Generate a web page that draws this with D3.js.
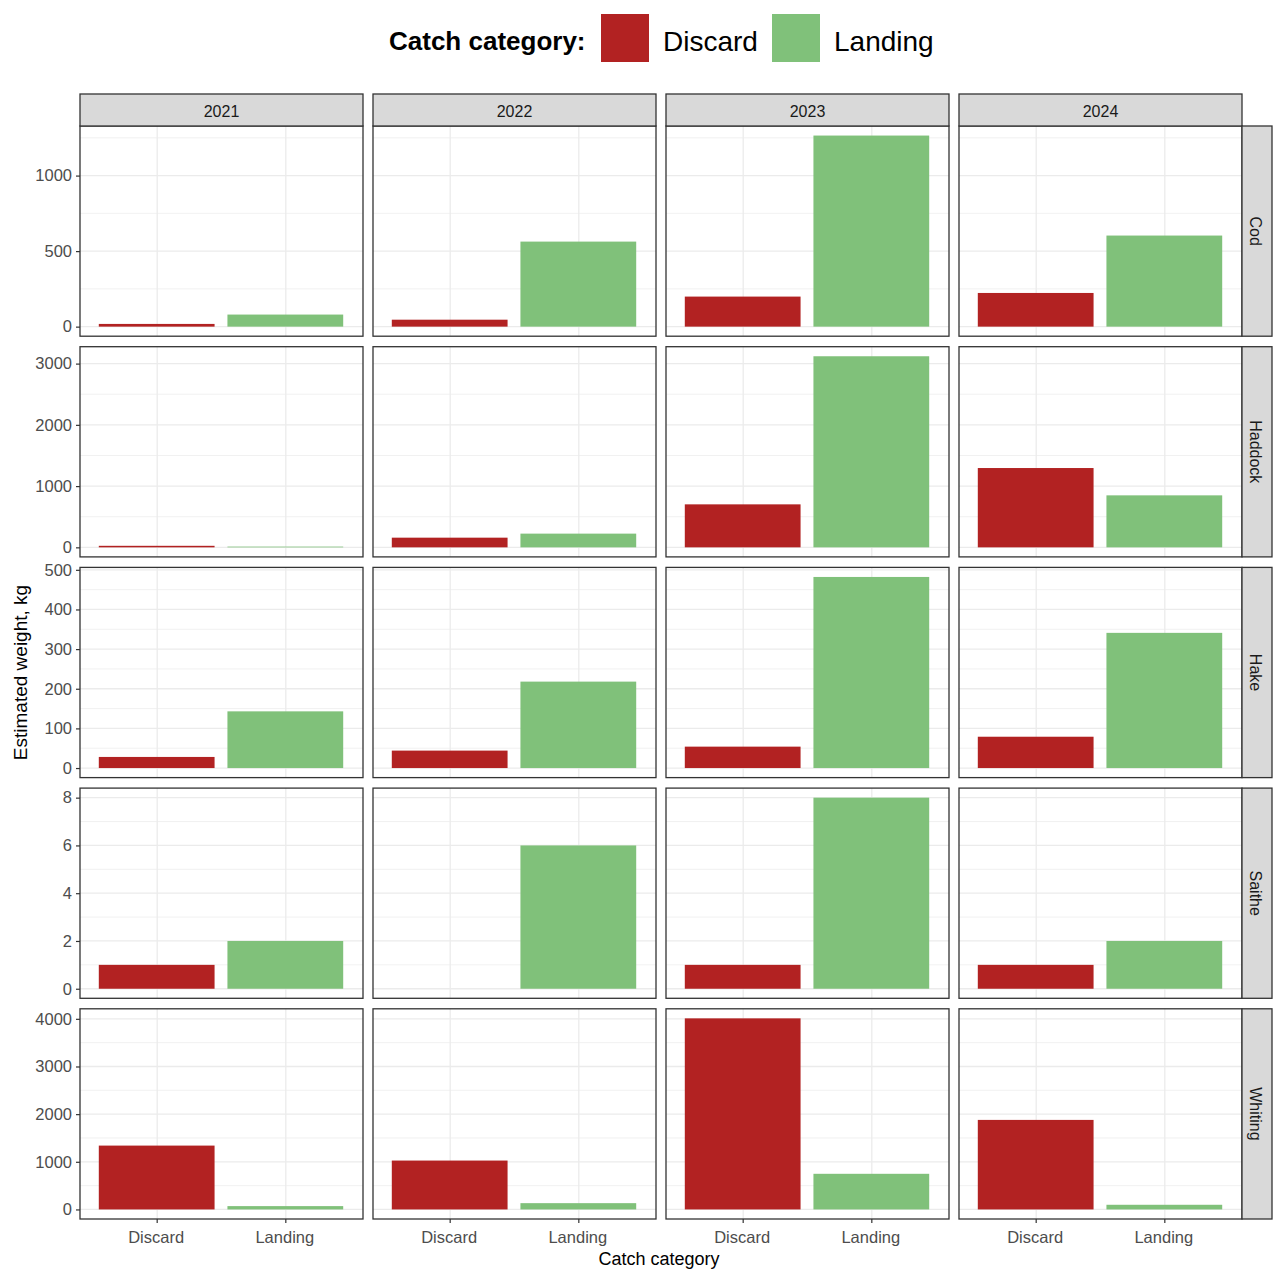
<!DOCTYPE html>
<html>
<head>
<meta charset="utf-8">
<script src="https://cdn.jsdelivr.net/npm/d3@7"></script>
<style>
  html, body { margin: 0; padding: 0; background: #fff; }
  svg { display: block; font-family: "Liberation Sans", Arial, sans-serif; }
</style>
</head>
<body>
<svg id="chart" width="1274" height="1271"></svg>
<script>
// Facet columns (years) and rows (species)
const years = ["2021", "2022", "2023", "2024"];
const species = ["Cod", "Haddock", "Hake", "Saithe", "Whiting"];
const categories = ["Discard", "Landing"];
const categoryColors = ["#B22222", "#80C17A"];

// Estimated weight (kg) by year, one array per species and catch category
const codDiscard = [18, 46, 199, 223];
const codLanding = [80, 563, 1265, 603];
const haddockDiscard = [25, 158, 702, 1295];
const haddockLanding = [12, 224, 3120, 849];
const hakeDiscard = [28, 44, 54, 79];
const hakeLanding = [143, 218, 482, 341];
const saitheDiscard = [1, null, 1, 1];
const saitheLanding = [2, 6, 8, 2];
const whitingDiscard = [1340, 1026, 4010, 1879];
const whitingLanding = [70, 132, 748, 98];

// Y tick labels per species row
const codTicks = [0, 500, 1000];
const haddockTicks = [0, 1000, 2000, 3000];
const hakeTicks = [0, 100, 200, 300, 400, 500];
const saitheTicks = [0, 2, 4, 6, 8];
const whitingTicks = [0, 1000, 2000, 3000, 4000];

const rows = [
  { name: species[0], values: [codDiscard, codLanding], ticks: codTicks },
  { name: species[1], values: [haddockDiscard, haddockLanding], ticks: haddockTicks },
  { name: species[2], values: [hakeDiscard, hakeLanding], ticks: hakeTicks },
  { name: species[3], values: [saitheDiscard, saitheLanding], ticks: saitheTicks },
  { name: species[4], values: [whitingDiscard, whitingLanding], ticks: whitingTicks }
];

// Layout
const gridLeft = 80, gridTop = 126, colW = 283, colGap = 10, rowH = 210.2, rowGap = 10.5;
const stripH = 32, stripW = 30;
const gridRight = gridLeft + 4 * colW + 3 * colGap;
const gridBottom = gridTop + 5 * rowH + 4 * rowGap;

const svg = d3.select("#chart");
const color = d3.scaleOrdinal().domain(categories).range(categoryColors);

// Discrete x: positions 1,2 with 0.6 expansion each side, bar width 0.9
const xUnit = d3.scaleLinear().domain([0.4, 2.6]).range([0, colW]);

const border = "#333333";
const gridCol = "#EBEBEB";
const tickText = "#4D4D4D";

rows.forEach((row, ri) => {
  const y0 = gridTop + ri * (rowH + rowGap);
  const allVals = row.values.flat().filter(v => v != null);
  const vmax = d3.max(allVals);
  const y = d3.scaleLinear()
    .domain([-0.05 * vmax, vmax * 1.05])
    .range([y0 + rowH, y0]);

  // minor breaks halfway between major ticks
  const step = row.ticks[1] - row.ticks[0];
  const minor = [];
  for (let v = row.ticks[0] - step / 2; v <= y.domain()[1]; v += step) {
    if (v >= y.domain()[0]) minor.push(v);
  }

  years.forEach((yr, ci) => {
    const x0 = gridLeft + ci * (colW + colGap);
    const g = svg.append("g").attr("transform", `translate(${x0},0)`);

    g.append("rect").attr("x", 0).attr("y", y0).attr("width", colW).attr("height", rowH)
      .attr("fill", "#fff");

    // grid
    g.selectAll(".minor").data(minor).join("line")
      .attr("x1", 0).attr("x2", colW)
      .attr("y1", d => y(d)).attr("y2", d => y(d))
      .attr("stroke", gridCol).attr("stroke-width", 0.7);
    g.selectAll(".major").data(row.ticks).join("line")
      .attr("x1", 0).attr("x2", colW)
      .attr("y1", d => y(d)).attr("y2", d => y(d))
      .attr("stroke", gridCol).attr("stroke-width", 1.3);
    g.selectAll(".vmajor").data(categories).join("line")
      .attr("x1", (d, i) => xUnit(i + 1)).attr("x2", (d, i) => xUnit(i + 1))
      .attr("y1", y0).attr("y2", y0 + rowH)
      .attr("stroke", gridCol).attr("stroke-width", 1.3);

    // bars
    const barData = categories.map((c, k) => ({ cat: c, k, v: row.values[k][ci] }))
      .filter(d => d.v != null);
    g.selectAll(".bar").data(barData).join("rect")
      .attr("x", d => xUnit(d.k + 1 - 0.45) - 0.5)
      .attr("width", xUnit(1.45) - xUnit(0.55))
      .attr("y", d => y(d.v))
      .attr("height", d => y(0) - y(d.v))
      .attr("fill", d => color(d.cat));

    // panel border
    g.append("rect").attr("x", 0).attr("y", y0).attr("width", colW).attr("height", rowH)
      .attr("fill", "none").attr("stroke", border).attr("stroke-width", 1.3);

    // top strips
    if (ri === 0) {
      g.append("rect").attr("x", 0).attr("y", gridTop - stripH).attr("width", colW).attr("height", stripH)
        .attr("fill", "#D9D9D9").attr("stroke", border).attr("stroke-width", 1.3);
      g.append("text").attr("x", colW / 2).attr("y", gridTop - stripH / 2 + 1)
        .attr("text-anchor", "middle").attr("dominant-baseline", "central")
        .attr("font-size", 16).attr("fill", "#1A1A1A").text(yr);
    }

    // bottom x axis
    if (ri === rows.length - 1) {
      const xa = g.append("g");
      categories.forEach((c, k) => {
        xa.append("line").attr("x1", xUnit(k + 1)).attr("x2", xUnit(k + 1))
          .attr("y1", y0 + rowH).attr("y2", y0 + rowH + 4)
          .attr("stroke", border).attr("stroke-width", 1.2);
        xa.append("text").attr("x", xUnit(k + 1) - 1).attr("y", y0 + rowH + 18)
          .attr("text-anchor", "middle").attr("dominant-baseline", "central")
          .attr("font-size", 16.5).attr("fill", tickText).text(c);
      });
    }
  });

  // left y axis
  const axis = d3.axisLeft(y).tickValues(row.ticks).tickSize(4).tickPadding(4)
    .tickFormat(d3.format("d"));
  const ag = svg.append("g").attr("transform", `translate(${gridLeft},0)`).call(axis);
  ag.select(".domain").remove();
  ag.selectAll(".tick line").attr("stroke", border).attr("stroke-width", 1.2);
  ag.selectAll(".tick text").attr("font-size", 16.5).attr("fill", tickText)
    .attr("font-family", "Liberation Sans, Arial, sans-serif");

  // right strip
  svg.append("rect").attr("x", gridRight).attr("y", y0).attr("width", stripW).attr("height", rowH)
    .attr("fill", "#D9D9D9").attr("stroke", border).attr("stroke-width", 1.3);
  svg.append("text")
    .attr("transform", `translate(${gridRight + stripW / 2 - 2},${y0 + rowH / 2}) rotate(90)`)
    .attr("text-anchor", "middle").attr("dominant-baseline", "central")
    .attr("font-size", 16).attr("fill", "#1A1A1A").text(row.name);
});

// axis titles
svg.append("text")
  .attr("transform", `translate(20,${(gridTop + gridBottom) / 2}) rotate(-90)`)
  .attr("text-anchor", "middle").attr("dominant-baseline", "central")
  .attr("font-size", 19).attr("fill", "#000").text("Estimated weight, kg");
svg.append("text")
  .attr("x", (gridLeft + gridRight) / 2 - 2).attr("y", 1259)
  .attr("text-anchor", "middle").attr("dominant-baseline", "central")
  .attr("font-size", 18).attr("fill", "#000").text("Catch category");

// legend
const leg = svg.append("g");
leg.append("text").attr("x", 389).attr("y", 41).attr("dominant-baseline", "central")
  .attr("font-size", 26).attr("font-weight", "bold").attr("fill", "#000").text("Catch category:");
const keyX = [601, 772];
categories.forEach((c, i) => {
  leg.append("rect").attr("x", keyX[i]).attr("y", 14).attr("width", 48).attr("height", 48)
    .attr("fill", color(c));
  leg.append("text").attr("x", keyX[i] + 62).attr("y", 41).attr("dominant-baseline", "central")
    .attr("font-size", 28).attr("fill", "#000").text(c);
});
</script>
</body>
</html>
